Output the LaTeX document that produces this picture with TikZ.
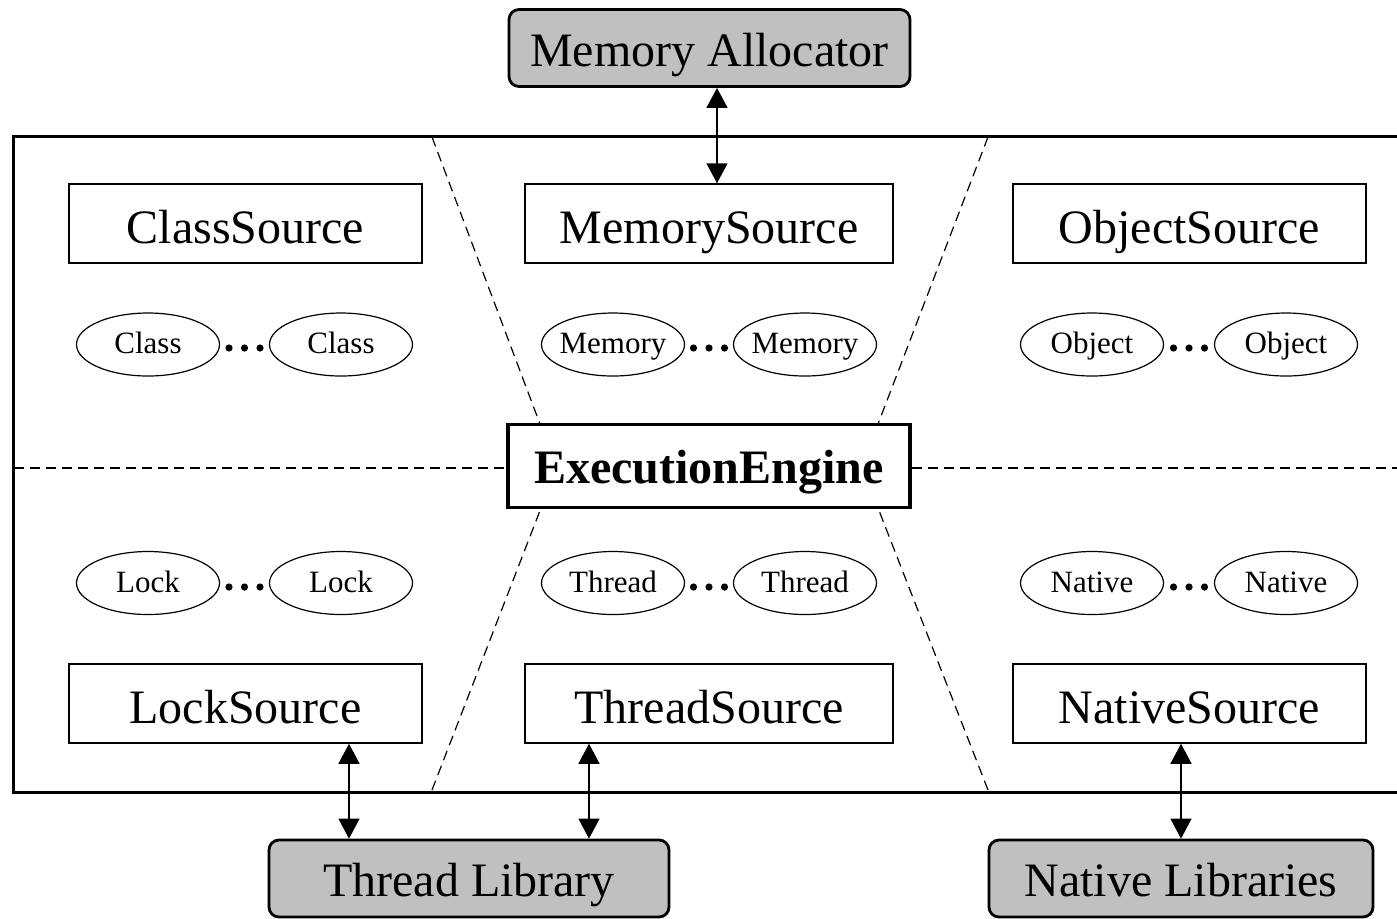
\documentclass[tikz,border=0pt]{standalone}
\usepackage{fontspec}
\setmainfont{Liberation Serif}
\usetikzlibrary{arrows.meta,shapes.geometric}
\definecolor{libgray}{RGB}{192,192,192}
\begin{document}
\begin{tikzpicture}[x=0.5pt,y=-0.5pt,
 bigtext/.style={font=\fontsize{24}{28}\selectfont, text height=24pt, text depth=5pt},
 src/.style={draw, line width=0.75pt, minimum width=176.5pt, minimum height=39.5pt, inner sep=0pt, bigtext, text height=24.5pt, text depth=5pt},
 lib/.style={draw, line width=1.4pt, rounded corners=5pt, fill=libgray, inner sep=0pt, minimum height=38.5pt, bigtext, text height=23pt, text depth=5pt},
 item/.style={ellipse, draw, line width=0.6pt, minimum width=71.5pt, minimum height=31.5pt, inner ysep=0pt, inner xsep=-2pt,
   font=\fontsize{15.5}{18}\selectfont, text height=14pt, text depth=4.8pt},
 sepline/.style={dash pattern=on 5pt off 3pt, line width=0.6pt},
 biarrow/.style={{Triangle[length=10pt,width=10.5pt]}-{Triangle[length=10pt,width=10.5pt]}, line width=0.75pt},
 outerframe/.style={line width=1.5pt},
 dotmark/.style={fill, circle, inner sep=0pt, minimum size=3.6pt}
]
\useasboundingbox (0,0) rectangle (1397,918);

% outer frame
\draw[outerframe] (13,136) rectangle (1410,792);

% external libraries
\node[lib, minimum width=200.5pt] (ma) at (709.5,48) {Memory Allocator};
\node[lib, minimum width=200pt] (tl) at (469,878.5) {Thread Library};
\node[lib, minimum width=192pt] (nl) at (1181,878.5) {Native Libraries};

% source boxes
\node[src] (cs) at (245.5,223.5) {ClassSource};
\node[src, minimum width=184pt] (ms) at (709,223.5) {MemorySource};
\node[src] (os) at (1189.5,223.5) {ObjectSource};
\node[src] (ls) at (245.5,703.5) {LockSource};
\node[src, minimum width=184pt] (ts) at (709,703.5) {ThreadSource};
\node[src] (ns) at (1189.5,703.5) {NativeSource};

% execution engine
\node[draw, line width=1.7pt, minimum width=201pt, minimum height=41.5pt, inner sep=0pt,
      bigtext, font=\fontsize{24}{28}\selectfont\bfseries, text height=22pt, text depth=5pt] (ee) at (709,466) {ExecutionEngine};

% items
\node[item] (c1) at (148,344.5) {Class};
\node[item] (c2) at (341,344.5) {Class};
\node[item] (m1) at (613,344.5) {Memory};
\node[item] (m2) at (805,344.5) {Memory};
\node[item] (o1) at (1092,344.5) {Object};
\node[item] (o2) at (1286,344.5) {Object};
\node[item] (l1) at (148,583) {Lock};
\node[item] (l2) at (341,583) {Lock};
\node[item] (t1) at (613,583) {Thread};
\node[item] (t2) at (805,583) {Thread};
\node[item] (n1) at (1092,583) {Native};
\node[item] (n2) at (1286,583) {Native};

% ellipsis dots
\foreach \mx/\nm in {244.5/c, 709/m, 1189/o}{
  \foreach \k in {-1,0,1}{
    \node[dotmark] (\nm dot\k) at (\mx+\k*15.5,348) {};
  }
}
\foreach \mx/\nm in {244.5/l, 709/t, 1189/n}{
  \foreach \k in {-1,0,1}{
    \node[dotmark] (\nm dot\k) at (\mx+\k*15.5,587) {};
  }
}

% separators
\coordinate (tlft) at (432,137);
\coordinate (trgt) at (988,137);
\coordinate (blft) at (432,790);
\coordinate (brgt) at (988,790);
\coordinate (lend) at (14,468);
\coordinate (rend) at (1397,468);
\coordinate (eetl) at (540,424);
\coordinate (eetr) at (878,424);
\coordinate (eebl) at (541,508);
\coordinate (eebr) at (878,508);
\draw[sepline] (tlft) -- (eetl);
\draw[sepline] (trgt) -- (eetr);
\draw[sepline] (blft) -- (eebl);
\draw[sepline] (brgt) -- (eebr);
\draw[sepline] (lend) -- (lend -| ee.west);
\draw[sepline] (ee.east |- rend) -- (rend);

% connectors
\coordinate (xa) at (717,0);
\coordinate (xb) at (349,0);
\coordinate (xc) at (589,0);
\coordinate (xd) at (1181,0);
\draw[biarrow] (ma.south -| xa) -- (ms.north -| xa);
\draw[biarrow] (ls.south -| xb) -- (tl.north -| xb);
\draw[biarrow] (ts.south -| xc) -- (tl.north -| xc);
\draw[biarrow] (ns.south -| xd) -- (nl.north -| xd);
\end{tikzpicture}
\end{document}
